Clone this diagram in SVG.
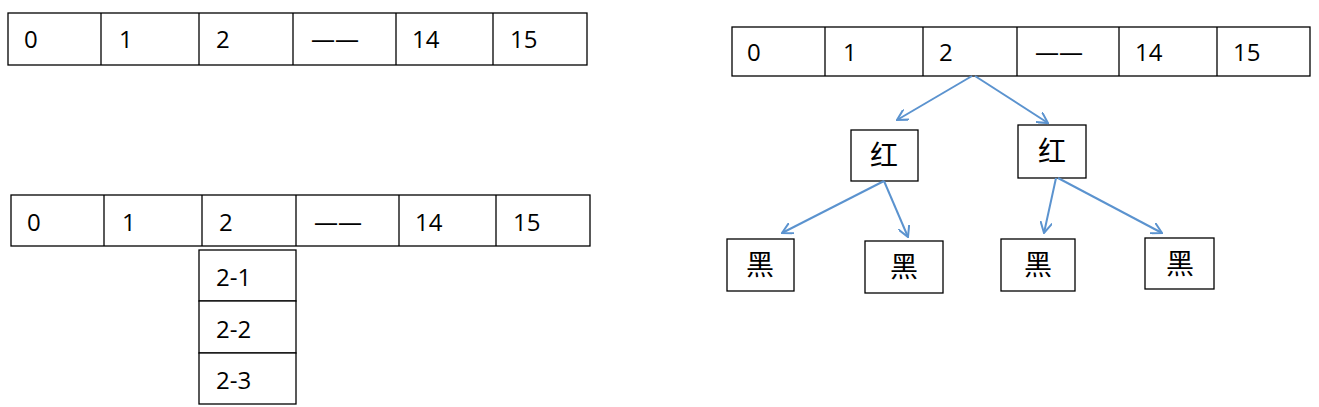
<svg xmlns="http://www.w3.org/2000/svg" width="1319" height="407" viewBox="0 0 1319 407">
<style>
rect{fill:#fff;stroke:#000;stroke-width:1.3}
line.d{stroke:#000;stroke-width:1.3}
text{font-family:"Open Sans","Liberation Sans",sans-serif;font-size:24px;fill:#000}
text.c{font-family:"Noto Sans CJK SC",sans-serif;font-size:28px;text-anchor:middle}
.a{stroke:#5b93cf;stroke-width:2;fill:none}
</style>
<defs><marker id="m" viewBox="0 0 12 12" refX="11" refY="6" markerWidth="12" markerHeight="12" markerUnits="userSpaceOnUse" orient="auto"><path d="M0,0 L11,6 L0,12" fill="none" stroke="#5b93cf" stroke-width="2"/></marker></defs>
<g id="arrayA">
<rect x="8" y="13" width="579" height="52"/>
<line class="d" x1="101" y1="13" x2="101" y2="65"/><line class="d" x1="199" y1="13" x2="199" y2="65"/><line class="d" x1="293" y1="13" x2="293" y2="65"/><line class="d" x1="396" y1="13" x2="396" y2="65"/><line class="d" x1="493" y1="13" x2="493" y2="65"/>
<text x="24" y="48">0</text><text x="119" y="48">1</text><text x="216" y="48">2</text><text x="311" y="48">——</text><text x="412" y="48">14</text><text x="510" y="48">15</text>
</g>
<g id="arrayB">
<rect x="11" y="195" width="579" height="51"/>
<line class="d" x1="104" y1="195" x2="104" y2="246"/><line class="d" x1="202" y1="195" x2="202" y2="246"/><line class="d" x1="296" y1="195" x2="296" y2="246"/><line class="d" x1="399" y1="195" x2="399" y2="246"/><line class="d" x1="496" y1="195" x2="496" y2="246"/>
<text x="27" y="231">0</text><text x="122" y="231">1</text><text x="219" y="231">2</text><text x="314" y="231">——</text><text x="415" y="231">14</text><text x="513" y="231">15</text>
</g>
<g id="chain">
<rect x="199" y="250" width="97" height="51"/><rect x="199" y="301" width="97" height="52"/><rect x="199" y="353" width="97" height="51"/>
<text x="216" y="286">2-1</text><text x="216" y="338">2-2</text><text x="216" y="389">2-3</text>
</g>
<g id="arrayC">
<rect x="732" y="27" width="578" height="49"/>
<line class="d" x1="825" y1="27" x2="825" y2="76"/><line class="d" x1="923" y1="27" x2="923" y2="76"/><line class="d" x1="1017" y1="27" x2="1017" y2="76"/><line class="d" x1="1119" y1="27" x2="1119" y2="76"/><line class="d" x1="1217" y1="27" x2="1217" y2="76"/>
<text x="747" y="61">0</text><text x="843" y="61">1</text><text x="939" y="61">2</text><text x="1035" y="61">——</text><text x="1135" y="61">14</text><text x="1233" y="61">15</text>
</g>
<g id="red1"><rect x="851" y="130" width="67" height="51"/><text class="c" x="884" y="166">红</text></g>
<g id="red2"><rect x="1018" y="125" width="68" height="53"/><text class="c" x="1052" y="162">红</text></g>
<g id="black1"><rect x="727" y="239" width="67" height="52"/><text class="c" x="760" y="275">黑</text></g>
<g id="black2"><rect x="865" y="241" width="78" height="52"/><text class="c" x="904" y="277">黑</text></g>
<g id="black3"><rect x="1001" y="239" width="74" height="52"/><text class="c" x="1038" y="275">黑</text></g>
<g id="black4"><rect x="1145" y="238" width="69" height="51"/><text class="c" x="1180" y="274">黑</text></g>
<g id="connectors">
<line class="a" x1="972" y1="76" x2="897" y2="120" marker-end="url(#m)"/>
<line class="a" x1="975" y1="76" x2="1048" y2="123" marker-end="url(#m)"/>
<line class="a" x1="884" y1="181" x2="782" y2="233" marker-end="url(#m)"/>
<line class="a" x1="884" y1="181" x2="908" y2="237" marker-end="url(#m)"/>
<line class="a" x1="1056" y1="178" x2="1044" y2="233" marker-end="url(#m)"/>
<line class="a" x1="1058" y1="178" x2="1162" y2="233" marker-end="url(#m)"/>
</g>
</svg>
